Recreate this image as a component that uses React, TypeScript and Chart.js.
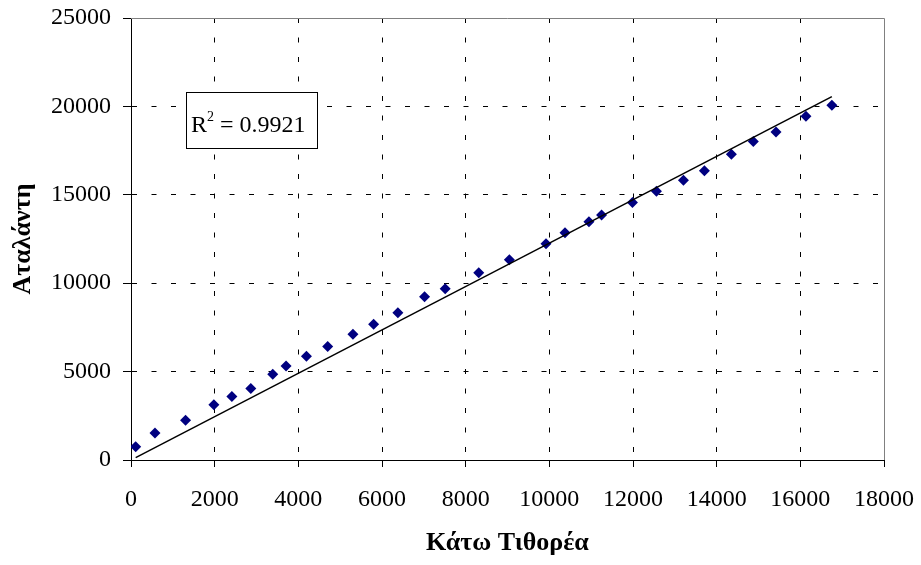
import React, { useEffect, useRef } from 'react';
import { Chart, registerables } from 'chart.js';

Chart.register(...registerables);

// Κάτω Τιθορέα (x) values
const xValues = [
  112, 573, 1305, 1981, 2411, 2864, 3389, 3707, 4194, 4702,
  5306, 5800, 6380, 7017, 7511, 8313, 9045, 9921, 10375, 10947,
  11248, 11986, 12561, 13206, 13707, 14351, 14876, 15418, 16134, 16754,
];
// Αταλάντη (y) values
const yValues = [
  753, 1529, 2243, 3132, 3585, 4038, 4848, 5323, 5867, 6416,
  7113, 7679, 8325, 9231, 9684, 10590, 11326, 12232, 12855, 13478,
  13852, 14560, 15194, 15817, 16366, 17289, 18008, 18552, 19441, 20064,
];

const X_MIN = 0;
const X_MAX = 18000;
const X_STEP = 2000;
const Y_MIN = 0;
const Y_MAX = 25000;
const Y_STEP = 5000;

const xTitle = 'Κάτω Τιθορέα';
const yTitle = 'Αταλάντη';
const r2Value = '0.9921';

const FONT = "'Liberation Serif', 'Times New Roman', serif";

// Linear trendline with the intercept set to zero (through the origin)
function slopeThroughOrigin(xs: number[], ys: number[]) {
  let sxx = 0, sxy = 0;
  for (let i = 0; i < xs.length; i++) {
    sxx += xs[i] * xs[i];
    sxy += xs[i] * ys[i];
  }
  return sxy / sxx;
}

export default function App() {
  const ref = useRef<HTMLCanvasElement>(null);

  useEffect(() => {
    if (!ref.current) return;
    const points = xValues.map((x, i) => ({ x, y: yValues[i] }));
    const slope = slopeThroughOrigin(xValues, yValues);
    const xmin = Math.min(...xValues);
    const xmax = Math.max(...xValues);
    const trend = [
      { x: xmin, y: slope * xmin },
      { x: xmax, y: slope * xmax },
    ];

    const framePlugin = {
      id: 'frameAndR2',
      afterDraw(chart: any) {
        const { ctx, chartArea: a } = chart;
        ctx.save();
        // plot-area border (top & right)
        ctx.strokeStyle = '#808080';
        ctx.lineWidth = 1;
        ctx.setLineDash([]);
        ctx.beginPath();
        ctx.moveTo(Math.round(a.left), Math.round(a.top) + 0.5);
        ctx.lineTo(Math.round(a.right) + 0.5, Math.round(a.top) + 0.5);
        ctx.lineTo(Math.round(a.right) + 0.5, Math.round(a.bottom));
        ctx.stroke();

        // R² label box
        const bx = Math.round(a.left + 54.5);
        const by = Math.round(a.top + 74);
        const bw = 131;
        const bh = 56;
        ctx.fillStyle = '#ffffff';
        ctx.fillRect(bx, by, bw, bh);
        ctx.strokeStyle = '#000000';
        ctx.strokeRect(bx + 0.5, by + 0.5, bw, bh);

        ctx.fillStyle = '#000000';
        ctx.textBaseline = 'alphabetic';
        ctx.textAlign = 'left';
        let tx = bx + 5;
        const ty = by + 39.5;
        ctx.font = `24px ${FONT}`;
        ctx.fillText('R', tx, ty);
        tx += ctx.measureText('R').width;
        ctx.font = `14px ${FONT}`;
        ctx.fillText('2', tx, ty - 11);
        tx += ctx.measureText('2').width;
        ctx.font = `24px ${FONT}`;
        ctx.fillText(' = ' + r2Value, tx, ty);
        ctx.restore();
      },
    };

    const gridColor = (max: number) => (c: any) =>
      c.tick && c.tick.value === max ? 'rgba(0,0,0,0)' : '#000000';

    const zeroPad = (scale: any) => {
      scale.paddingTop = 0;
      scale.paddingBottom = 0;
      scale.paddingLeft = 0;
      scale.paddingRight = 0;
    };

    const chart = new Chart(ref.current, {
      type: 'scatter',
      data: {
        datasets: [
          {
            type: 'line',
            label: 'trend',
            data: trend,
            borderColor: '#000000',
            borderWidth: 1.5,
            pointRadius: 0,
            fill: false,
            showLine: true,
          } as any,
          {
            label: 'data',
            data: points,
            backgroundColor: '#000080',
            borderColor: '#000080',
            borderWidth: 0,
            pointStyle: 'rectRot',
            pointRadius: 5.5,
          },
        ],
      },
      options: {
        responsive: false,
        animation: false,
        devicePixelRatio: 1,
        layout: { padding: { top: 18, right: 37, left: 0, bottom: 0 } },
        plugins: {
          legend: { display: false },
          tooltip: { enabled: false },
        },
        scales: {
          x: {
            type: 'linear',
            min: X_MIN,
            max: X_MAX,
            ticks: {
              stepSize: X_STEP,
              color: '#000000',
              font: { family: FONT, size: 24 },
              padding: 18,
              maxRotation: 0,
              callback: (v: any) => String(v),
            },
            grid: {
              color: gridColor(X_MAX),
              tickColor: '#000000',
              tickLength: 7,
              lineWidth: 1,
              tickBorderDash: [],
            },
            border: { display: true, color: '#000000', width: 1, dash: [5, 14.5] },
            title: {
              display: true,
              text: xTitle,
              color: '#000000',
              font: { family: FONT, size: 26, weight: 'bold' },
              padding: { top: 0, bottom: 6 },
            },
            afterFit(scale: any) {
              scale.height = 105;
              zeroPad(scale);
            },
          },
          y: {
            type: 'linear',
            min: Y_MIN,
            max: Y_MAX,
            ticks: {
              stepSize: Y_STEP,
              color: '#000000',
              font: { family: FONT, size: 24 },
              padding: 12,
              callback: (v: any) => String(v),
            },
            grid: {
              color: gridColor(Y_MAX),
              tickColor: '#000000',
              tickLength: 8,
              lineWidth: 1,
              tickBorderDash: [],
            },
            border: { display: true, color: '#000000', width: 1, dash: [5, 14.5] },
            title: {
              display: true,
              text: yTitle,
              color: '#000000',
              font: { family: FONT, size: 26, weight: 'bold' },
              padding: { top: 8, bottom: 0 },
            },
            afterFit(scale: any) {
              scale.width = 131;
              zeroPad(scale);
            },
          },
        },
      } as any,
      plugins: [framePlugin],
    });

    return () => chart.destroy();
  }, []);

  return (
    <div style={{ position: 'fixed', left: 0, top: 0, width: 921, height: 565, background: '#ffffff' }}>
      <canvas ref={ref} width={921} height={565} style={{ display: 'block', width: 921, height: 565 }} />
    </div>
  );
}
